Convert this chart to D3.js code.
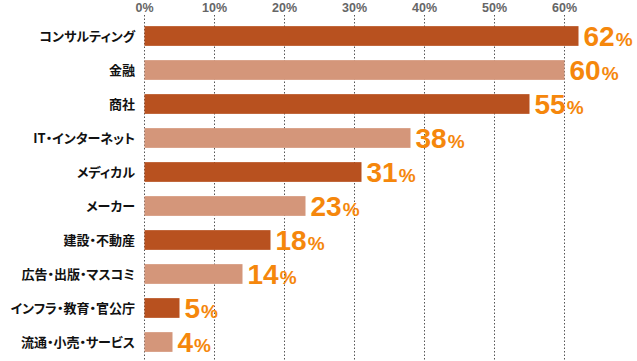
<!DOCTYPE html>
<html><head><meta charset="utf-8">
<script src="https://cdn.jsdelivr.net/npm/d3@7"></script>
<style>body{margin:0;background:#fff}svg{display:block}
.cat{font-feature-settings:"palt" 1;}</style>
</head><body>
<svg id="c" width="637" height="361"></svg>
<script>
const categories = ["コンサルティング","金融","商社","IT・インターネット","メディカル","メーカー","建設・不動産","広告・出版・マスコミ","インフラ・教育・官公庁","流通・小売・サービス"];
const values = [62,60,55,38,31,23,18,14,5,4];
const tickValues = [0,10,20,30,40,50,60];
const tickLabels = ["0%","10%","20%","30%","40%","50%","60%"];
const barColors = ["#b8511f","#d4967a"];

const svg = d3.select("#c");
const x = d3.scaleLinear().domain([0,10]).range([144.5,214.5]);
const y = d3.scaleBand().domain(categories).range([19,359]).paddingInner(0.42).paddingOuter(0.21);

// gridlines
svg.append("g").selectAll("line").data(tickValues).join("line")
  .attr("x1",d=>x(d)).attr("x2",d=>x(d)).attr("y1",15).attr("y2",361)
  .attr("stroke","#555").attr("stroke-width",1).attr("stroke-dasharray","1.5,2");

// tick labels
svg.append("g").selectAll("text").data(tickValues).join("text")
  .attr("x",d=>x(d)).attr("y",12).attr("text-anchor","middle")
  .attr("font-family","Liberation Sans, Arial, sans-serif").attr("font-weight","bold")
  .attr("font-size",12.5).attr("fill","#666")
  .text((d,i)=>tickLabels[i]);

// bars
svg.append("g").selectAll("rect").data(values).join("rect")
  .attr("x",x(0)).attr("y",(d,i)=>y(categories[i]))
  .attr("width",d=>x(d)-x(0)).attr("height",y.bandwidth())
  .attr("fill",(d,i)=>barColors[i%2]);

// category labels
svg.append("g").selectAll("text").data(categories).join("text")
  .attr("class","cat")
  .attr("x",135).attr("y",d=>y(d)+y.bandwidth()/2).attr("dy","0.36em")
  .attr("text-anchor","end")
  .attr("font-family","Noto Sans CJK JP, sans-serif").attr("font-weight","bold")
  .attr("font-size",13).attr("fill","#111")
  .text(d=>d);

// value labels
const vl = svg.append("g").selectAll("text").data(values).join("text")
  .attr("x",d=>x(d)+5).attr("y",(d,i)=>y(categories[i])+y.bandwidth()/2+10)
  .attr("font-family","Liberation Sans, Arial, sans-serif").attr("font-weight","bold")
  .attr("fill","#f5870c");
vl.append("tspan").attr("font-size",28).text(d=>d);
vl.append("tspan").attr("font-size",19).attr("dx",1).text("%");
</script>
</body></html>
